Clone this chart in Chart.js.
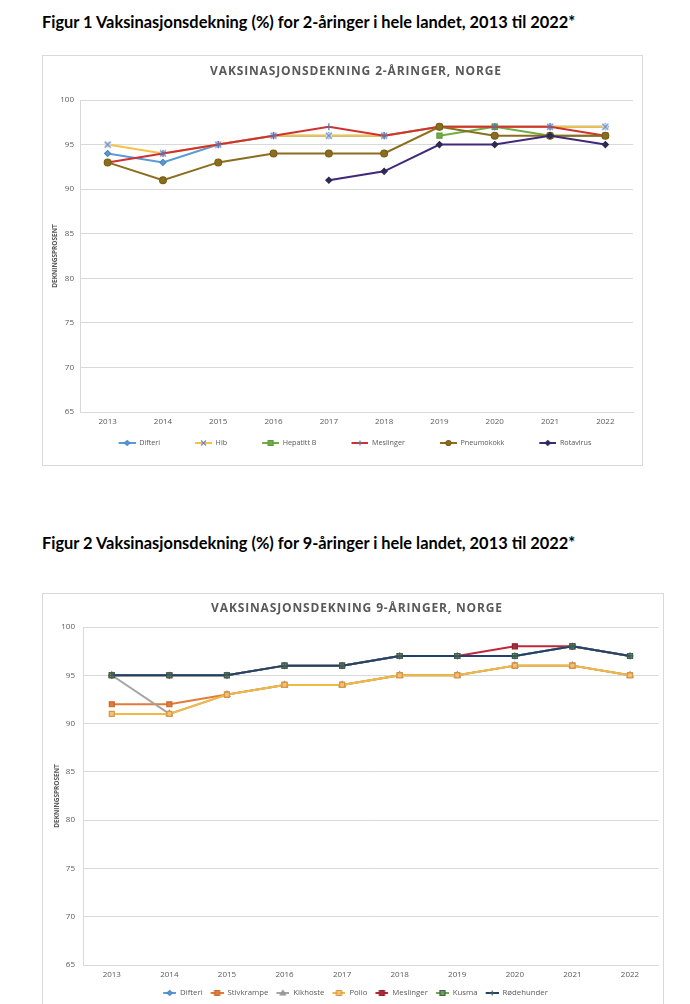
<!DOCTYPE html>
<html>
<head>
<meta charset="utf-8">
<script src="https://cdn.jsdelivr.net/npm/chart.js@4.4.0/dist/chart.umd.min.js"></script>
<style>
body{margin:0;background:#fff;width:690px;height:1004px;overflow:hidden;position:relative}
.head{position:absolute;left:42px;margin:0;font:bold 16.4px Lato,sans-serif;line-height:20px;color:#000;white-space:nowrap}
.frame{position:absolute;border:1px solid #d9d9d9;box-sizing:border-box;pointer-events:none}
canvas{position:absolute}
.ttl{position:absolute;font:bold 12px "Open Sans",sans-serif;line-height:16px;color:#595959;letter-spacing:0.85px;white-space:nowrap;transform:translateX(-50%)}
</style>
</head>
<body>
<div class="head" style="top:12px">Figur 1 Vaksinasjonsdekning (%) for 2-åringer i hele landet, 2013 til 2022*</div>
<canvas id="c1" width="601" height="411" style="left:42px;top:55px;width:601px;height:411px"></canvas>
<div class="frame" style="left:42px;top:55px;width:601px;height:411px"></div>
<div class="ttl" style="left:356px;top:63px">VAKSINASJONSDEKNING 2-ÅRINGER, NORGE</div>

<div class="head" style="top:533px">Figur 2 Vaksinasjonsdekning (%) for 9-åringer i hele landet, 2013 til 2022*</div>
<canvas id="c2" width="622" height="420" style="left:42px;top:593px;width:622px;height:420px"></canvas>
<div class="frame" style="left:42px;top:593px;width:622px;height:420px"></div>
<div class="ttl" style="left:357px;top:600px">VAKSINASJONSDEKNING 9-ÅRINGER, NORGE</div>

<script>
// years shown on the x axis
var years = ['2013', '2014', '2015', '2016', '2017', '2018', '2019', '2020', '2021', '2022'];
var yTicks = [65, 70, 75, 80, 85, 90, 95, 100];

// 2-åringer
var difteri2 = [94, 93, 95, 96, 96, 96, 97, 97, 97, 97];
var hib2 = [95, 94, 95, 96, 96, 96, 97, 97, 97, 97];
var hepatittB2 = [null, null, null, null, null, null, 96, 97, 96, 96];
var meslinger2 = [93, 94, 95, 96, 97, 96, 97, 97, 97, 96];
var pneumokokk2 = [93, 91, 93, 94, 94, 94, 97, 96, 96, 96];
var rotavirus2 = [null, null, null, null, 91, 92, 95, 95, 96, 95];

// 9-åringer
var difteri9 = [95, 95, 95, 96, 96, 97, 97, 97, 98, 97];
var stivkrampe9 = [92, 92, 93, 94, 94, 95, 95, 96, 96, 95];
var kikhoste9 = [95, 91, 93, 94, 94, 95, 95, 96, 96, 95];
var polio9 = [91, 91, 93, 94, 94, 95, 95, 96, 96, 95];
var meslinger9 = [95, 95, 95, 96, 96, 97, 97, 98, 98, 97];
var kusma9 = [95, 95, 95, 96, 96, 97, 97, 97, 98, 97];
var rodehunder9 = [95, 95, 95, 96, 96, 97, 97, 97, 98, 97];

var grey = '#595959';
var gridGrey = '#d9d9d9';

function marker(g, style, x, y, r, fill, stroke) {
    g.fillStyle = fill;
    g.strokeStyle = stroke;
    g.lineWidth = 1.2;
    g.beginPath();
    if (style === 'cross') {
        g.moveTo(x - r, y); g.lineTo(x + r, y); g.moveTo(x, y - r); g.lineTo(x, y + r);
        g.stroke();
        return;
    }
    if (style === 'crossRot' || style === 'xbox') {
        if (style === 'xbox') g.fillRect(x - r, y - r, 2 * r, 2 * r);
        g.moveTo(x - r, y - r); g.lineTo(x + r, y + r); g.moveTo(x + r, y - r); g.lineTo(x - r, y + r);
        g.stroke();
        return;
    }
    if (style === 'circle') g.arc(x, y, r, 0, Math.PI * 2);
    else if (style === 'rect') g.rect(x - r, y - r, 2 * r, 2 * r);
    else if (style === 'rectRot') { g.moveTo(x, y - r); g.lineTo(x + r, y); g.lineTo(x, y + r); g.lineTo(x - r, y); g.closePath(); }
    else if (style === 'triangle') { g.moveTo(x, y - r); g.lineTo(x + r, y + r * 0.8); g.lineTo(x - r, y + r * 0.8); g.closePath(); }
    g.fill();
    g.stroke();
}

// Hib marker: X on a pale square, so it hides the Difteri diamond below it
function xBoxImage(size, fill, stroke) {
    var c = document.createElement('canvas');
    c.width = size;
    c.height = size;
    var g = c.getContext('2d');
    marker(g, 'xbox', size / 2, size / 2, size / 2 - 1, fill, stroke);
    return c;
}

// small "line with marker" picture for the legend, with blank room on the left as spacing
function legendIcon(ds, blank, len) {
    var c = document.createElement('canvas');
    c.width = blank + len;
    c.height = 10;
    var g = c.getContext('2d');
    g.strokeStyle = ds.borderColor;
    g.lineWidth = 2;
    g.beginPath();
    g.moveTo(blank, 5);
    g.lineTo(blank + len, 5);
    g.stroke();
    marker(g, ds.legendStyle || ds.pointStyle, blank + len / 2, 5, 2.5, ds.pointBackgroundColor, ds.pointBorderColor);
    return c;
}

function series(label, data, color, style, fill, stroke, r) {
    return {
        label: label,
        data: data,
        borderColor: color,
        backgroundColor: color,
        borderWidth: 2,
        pointStyle: style,
        pointRadius: r,
        pointBackgroundColor: fill,
        pointBorderColor: stroke,
        pointBorderWidth: 1.2,
        tension: 0
    };
}

function makeChart(id, datasets, opt) {
    var n = datasets.length;
    var icons = datasets.map(function (ds) { return legendIcon(ds, opt.blank, opt.lineLen); });
    datasets.forEach(function (ds, i) {
        ds.order = n - i; // later series drawn on top
        if (ds.legendStyle) delete ds.legendStyle;
    });
    return new Chart(document.getElementById(id), {
        type: 'line',
        data: { labels: years, datasets: datasets },
        options: {
            responsive: false,
            animation: false,
            layout: { padding: { left: 0, right: opt.padRight, top: opt.padTop, bottom: opt.padBottom } },
            plugins: {
                title: { display: false },
                tooltip: { enabled: false },
                legend: {
                    position: 'bottom',
                    labels: {
                        usePointStyle: true,
                        pointStyleWidth: opt.blank + opt.lineLen,
                        padding: 0,
                        color: grey,
                        font: { family: 'Open Sans', size: opt.legendFont },
                        sort: function (a, b) { return a.datasetIndex - b.datasetIndex; },
                        generateLabels: function (chart) {
                            return Chart.defaults.plugins.legend.labels.generateLabels(chart).map(function (l) {
                                l.pointStyle = icons[l.datasetIndex];
                                return l;
                            });
                        }
                    }
                }
            },
            scales: {
                x: {
                    offset: true,
                    grid: { display: false, drawTicks: false },
                    border: { display: true, color: gridGrey },
                    ticks: { color: grey, padding: 5, font: { family: 'Open Sans', size: 8 } },
                    afterFit: function (s) { s.height = opt.xHeight; }
                },
                y: {
                    min: 65,
                    max: 100,
                    afterBuildTicks: function (s) { s.ticks = yTicks.map(function (v) { return { value: v }; }); },
                    grid: { color: gridGrey, drawTicks: false },
                    border: { display: true, color: gridGrey },
                    ticks: { color: grey, padding: opt.tickPad, font: { family: 'Open Sans', size: 8 } },
                    title: {
                        display: true,
                        text: 'DEKNINGSPROSENT',
                        color: grey,
                        padding: { top: opt.titlePad, bottom: 0 },
                        font: { family: 'Open Sans', size: 6.5, weight: 'bold' }
                    },
                    afterFit: function (s) { s.width = opt.yWidth; }
                }
            }
        }
    });
}

var hibSeries = series('Hib', hib2, '#f5c242', xBoxImage(8, '#dde5f4', '#6d87bd'), '#dde5f4', '#6d87bd', 4);
hibSeries.legendStyle = 'crossRot';

makeChart('c1', [
    series('Difteri', difteri2, '#5b9bd5', 'rectRot', '#5b9bd5', '#4a86c0', 3),
    hibSeries,
    series('Hepatitt B', hepatittB2, '#70ad47', 'rect', '#70ad47', '#5f9a3c', 3.6),
    series('Meslinger', meslinger2, '#d2302f', 'cross', '#5f6f9e', '#5f6f9e', 3.5),
    series('Pneumokokk', pneumokokk2, '#8b6d1e', 'circle', '#8b6d1e', '#7a5f18', 3.4),
    series('Rotavirus', rotavirus2, '#42287a', 'rectRot', '#2b2b55', '#2b2b55', 3)
], { blank: 35, lineLen: 17, legendFont: 7.2, padRight: 10, padTop: 45, padBottom: 9.4, xHeight: 27.4, yWidth: 38, tickPad: 6, titlePad: 9 });

makeChart('c2', [
    series('Difteri', difteri9, '#5b9bd5', 'rectRot', '#5b9bd5', '#4a86c0', 3),
    series('Stivkrampe', stivkrampe9, '#e07b3a', 'rect', '#e07b3a', '#c8692c', 3.5),
    series('Kikhoste', kikhoste9, '#a5a5a5', 'triangle', '#a5a5a5', '#8f8f8f', 3.5),
    series('Polio', polio9, '#f2b940', 'rect', '#f3c27a', '#d9963e', 3.5),
    series('Meslinger', meslinger9, '#c0283a', 'rect', '#b22a3a', '#8a1f2d', 3.5),
    series('Kusma', kusma9, '#70ad47', 'rect', '#6f9f5a', '#3f5f4f', 3.5),
    series('Rødehunder', rodehunder9, '#23406e', 'cross', '#23406e', '#3f5f4f', 3)
], { blank: 8, lineLen: 13, legendFont: 7.8, padRight: 3, padTop: 34, padBottom: 6.1, xHeight: 24.1, yWidth: 41, tickPad: 8, titlePad: 11 });
</script>
</body>
</html>
